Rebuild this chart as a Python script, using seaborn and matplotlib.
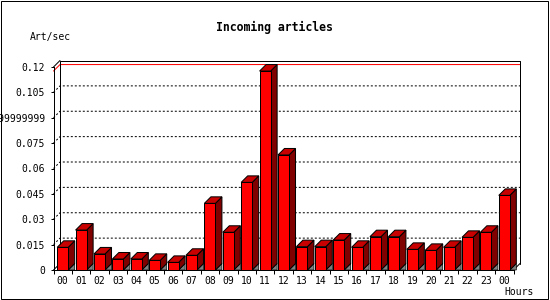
import numpy as np
import pandas as pd
import matplotlib
matplotlib.use("Agg")
import matplotlib.pyplot as plt
import seaborn as sns
from matplotlib.patches import Polygon, Rectangle
from matplotlib.lines import Line2D
from matplotlib.transforms import IdentityTransform

# ---- data ----
hours = ["00", "01", "02", "03", "04", "05", "06", "07", "08", "09", "10", "11",
         "12", "13", "14", "15", "16", "17", "18", "19", "20", "21", "22", "23", "00"]
rates = [0.0134, 0.0236, 0.0095, 0.0065, 0.0065, 0.0057, 0.0045, 0.0087, 0.0394,
         0.0223, 0.0518, 0.1176, 0.0680, 0.0138, 0.0138, 0.0177, 0.0134, 0.0197,
         0.0197, 0.0122, 0.0116, 0.0134, 0.0193, 0.0223, 0.0441]
ytick_values = [0, 0.015, 0.03, 0.045, 0.06, 0.075, 0.09, 0.105, 0.12]
ytick_labels = ["0", "0.015", "0.03", "0.045", "0.06", "0.075", "0.0899999999999",
                "0.105", "0.12"]
title = "Incoming articles"
ylabel = "Art/sec"
xlabel = "Hours"

sns.set_style("white")
plt.rcParams["font.family"] = ["DejaVu Sans Mono", "DejaVu Sans"]

W, H = 550, 300
fig = plt.figure(figsize=(5.5, 3.0), dpi=100)
fig.patch.set_facecolor("white")
ax = fig.add_axes([53.5 / W, 30 / H, 460 / W, 203 / H])
ax.set_facecolor("none")

df = pd.DataFrame({"slot": list(range(len(rates))), "rate": rates})
sns.barplot(data=df, x="slot", y="rate", color="#ff0000", saturation=1,
            width=0.6, edgecolor="black", linewidth=0.72, errorbar=None, ax=ax)

ax.set_xlim(-0.5, len(rates) - 0.5)
ax.set_ylim(ytick_values[0], ytick_values[-1])
ax.set_autoscale_on(False)
ax.set_xlabel("")
ax.set_ylabel("")

for s in ["top", "right"]:
    ax.spines[s].set_visible(False)
for s in ["left", "bottom"]:
    ax.spines[s].set_linewidth(0.72)
    ax.spines[s].set_color("black")

# x ticks at category boundaries, labels at centers
ax.set_xticks(np.arange(len(rates) + 1) - 0.5)
ax.set_xticklabels([])
ax.tick_params(axis="x", which="major", direction="out", length=3, width=0.72,
               color="black", bottom=True)
ax.set_xticks(np.arange(len(rates)), minor=True)
ax.set_xticklabels(hours, minor=True, fontsize=7)
ax.tick_params(axis="x", which="minor", length=0, pad=4.5, labelcolor="black")

ax.set_yticks(ytick_values)
ax.set_yticklabels(ytick_labels, fontsize=7)
ax.tick_params(axis="y", direction="out", length=2.5, width=0.72, pad=3.5,
               color="black", left=True, labelcolor="black")

ident = IdentityTransform()
d = 6.5
lw = 0.72
tD = ax.transData

xl, xr = ax.get_xlim()
(XL, Y0) = tD.transform((xl, 0))
(XR, YT) = tD.transform((xr, ytick_values[-1]))

# back grid lines (dotted, with depth diagonal)
for v in ytick_values[1:-1]:
    _, Yv = tD.transform((xl, v))
    ax.add_line(Line2D([XL, XL + d, XR + d], [Yv, Yv + d, Yv + d], transform=ident,
                       color="black", lw=lw, linestyle=(0, (2, 2)), clip_on=False,
                       zorder=0.5))

# max line in red
_, Ym = tD.transform((xl, max(rates)))
ax.add_line(Line2D([XL, XL + d, XR + d], [Ym, Ym + d, Ym + d], transform=ident,
                   color="red", lw=lw, clip_on=False, zorder=0.6))

# back frame
ax.add_line(Line2D([XL + d, XL + d, XR + d, XR + d], [Y0 + d, YT + d, YT + d, Y0 + d],
                   transform=ident, color="black", lw=lw, clip_on=False, zorder=0.7))
ax.add_line(Line2D([XL, XL + d], [YT, YT + d], transform=ident, color="black", lw=lw,
                   clip_on=False, zorder=0.7))
ax.add_line(Line2D([XR, XR + d], [Y0, Y0 + d], transform=ident, color="black", lw=lw,
                   clip_on=False, zorder=0.7))
ax.add_line(Line2D([XL, XL + d], [Y0, Y0 + d], transform=ident, color="black", lw=lw,
                   clip_on=False, zorder=0.7))

# 3D faces for each bar
for p in list(ax.patches):
    x0 = p.get_x()
    x1 = x0 + p.get_width()
    h = p.get_height()
    (X0, Hh) = tD.transform((x0, h))
    (X1, B) = tD.transform((x1, 0))
    shadow = Polygon([(X1, B), (X1 + d, B + d), (X1 + d, B)], closed=True,
                     facecolor="#808080", edgecolor="black", lw=0.5,
                     transform=ident, clip_on=False, zorder=1.1)
    side = Polygon([(X1, B), (X1, Hh), (X1 + d, Hh + d), (X1 + d, B + d)], closed=True,
                   facecolor="#800000", edgecolor="black", lw=lw,
                   transform=ident, clip_on=False, zorder=1.2)
    top = Polygon([(X0, Hh), (X1, Hh), (X1 + d, Hh + d), (X0 + d, Hh + d)], closed=True,
                  facecolor="#c80000", edgecolor="black", lw=lw,
                  transform=ident, clip_on=False, zorder=1.2)
    ax.add_patch(shadow)
    ax.add_patch(side)
    ax.add_patch(top)
    p.set_zorder(1.3)

# texts
fig.text(274 / W, 1 - 27 / H, title, ha="center", va="center", fontsize=8.3,
         fontweight="bold", color="black")
fig.text(30 / W, 1 - 37 / H, ylabel, ha="left", va="center", fontsize=7, color="black")
fig.text(534 / W, 1 - 292 / H, xlabel, ha="right", va="center", fontsize=7, color="black")

# outer frame
fig.add_artist(Rectangle((0.5, 1.5), 547, 297.5, transform=ident, fill=False,
                         edgecolor="black", lw=lw))

fig.savefig("out.png", dpi=100)
